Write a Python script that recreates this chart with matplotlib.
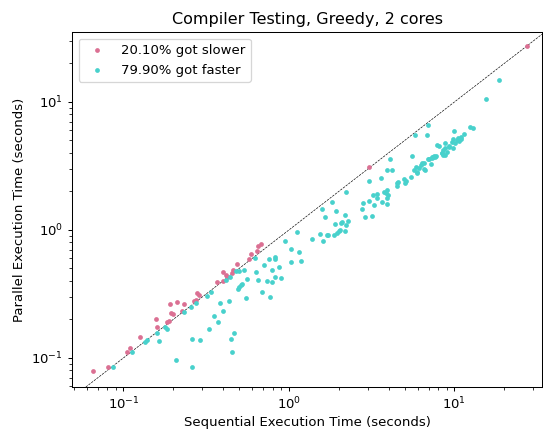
import matplotlib
matplotlib.use("Agg")
import matplotlib.pyplot as plt
import numpy as np

# Runs where the parallel build took longer than the sequential one
slower_seq = [0.0659, 0.0802, 0.105, 0.1098, 0.1253, 0.1572, 0.1594, 0.1824, 0.1876,
              0.191, 0.1936, 0.1983, 0.212, 0.2321, 0.2257, 0.2667, 0.2761, 0.2792,
              0.2871, 0.3673, 0.3977, 0.4019, 0.4144, 0.4203, 0.4505, 0.4606, 0.4852,
              0.5733, 0.5894, 0.6407, 0.6497, 0.6792, 3.064, 27.3]
slower_par = [0.0796, 0.0843, 0.1104, 0.1197, 0.1453, 0.2017, 0.1747, 0.1894, 0.1946,
              0.2642, 0.2258, 0.2194, 0.2714, 0.2656, 0.2342, 0.2763, 0.2839, 0.322,
              0.309, 0.391, 0.4017, 0.4656, 0.4434, 0.4278, 0.4638, 0.4852, 0.5426,
              0.5913, 0.6529, 0.6879, 0.7499, 0.7731, 3.10, 27.6]

# Runs where the parallel build was quicker
faster_seq = [0.0867, 0.1122, 0.1349, 0.1396, 0.1605, 0.1646, 0.1786, 0.1824, 0.2067,
              0.2327, 0.2594, 0.2594, 0.2551, 0.2754, 0.2911, 0.3183, 0.3388, 0.3277,
              0.3512, 0.3708, 0.3845, 0.3977, 0.415, 0.4369, 0.4418, 0.4461, 0.4537,
              0.4665, 0.4783, 0.4898, 0.4988, 0.5008, 0.5149, 0.5236, 0.5361, 0.5475,
              0.5552, 0.6274, 0.6363, 0.6478, 0.6869, 0.7112, 0.7343, 0.7625, 0.7699,
              0.7862, 0.7916, 0.8231, 0.8254, 0.8209, 0.870, 0.9009, 0.9485, 1.028,
              1.030, 1.115, 1.157, 1.178, 1.377, 1.546, 1.609, 1.587, 1.645, 1.692,
              1.725, 1.826, 1.923, 1.905, 1.883, 1.945, 2.005, 2.047, 2.053, 2.105,
              2.18, 2.195, 2.22, 2.273, 2.201, 2.761, 2.788, 2.867, 3.052, 3.056,
              3.195, 3.218, 3.254, 3.388, 3.388, 3.622, 3.657, 3.75, 3.855, 3.926,
              3.893, 3.981, 3.909, 3.893, 4.179, 4.059, 4.511, 4.493, 4.556, 4.939,
              5.057, 5.107, 5.483, 5.536, 5.692, 5.829, 5.952, 5.911, 6.077, 6.249,
              6.380, 6.561, 6.515, 6.898, 7.193, 7.344, 7.54, 7.731, 7.818, 8.083,
              8.486, 8.557, 8.787, 8.80, 9.239, 5.796, 6.849, 6.898, 9.93, 12.41,
              12.9, 11.49, 10.99, 10.57, 10.31, 9.752, 9.618, 10.07, 9.328, 9.833,
              8.37, 8.738, 7.677, 7.385, 7.043, 6.616, 18.57, 15.61, 8.463, 8.973,
              10.65, 10.90, 7.28]
faster_par = [0.0851, 0.1108, 0.1334, 0.1375, 0.158, 0.1365, 0.176, 0.1694, 0.0965,
              0.229, 0.0854, 0.1413, 0.2512, 0.269, 0.139, 0.3051, 0.3296, 0.1679,
              0.2109, 0.1921, 0.2666, 0.232, 0.4053, 0.2773, 0.4317, 0.1395, 0.1108,
              0.156, 0.474, 0.3447, 0.4765, 0.3567, 0.3718, 0.38, 0.487, 0.2954,
              0.4142, 0.6075, 0.4723, 0.4031, 0.328, 0.5329, 0.4017, 0.5913, 0.2981,
              0.3903, 0.4826, 0.6096, 0.5881, 0.4317, 0.5168, 0.418, 0.8251, 0.7042,
              0.5656, 0.9647, 0.6708, 0.5724, 0.8459, 0.9256, 0.8235, 1.464, 1.268,
              0.919, 0.919, 1.646, 1.407, 1.118, 0.914, 0.939, 0.982, 1.0, 1.128,
              1.151, 1.298, 0.982, 1.084, 1.176, 1.992, 1.459, 1.625, 1.268, 2.427,
              1.685, 1.275, 1.87, 1.562, 1.918, 1.762, 2.563, 1.661, 1.988, 1.935,
              2.035, 1.582, 1.86, 1.768, 2.943, 2.958, 3.567, 2.215, 2.317, 2.359,
              2.512, 2.309, 2.414, 2.581, 3.752, 2.943, 3.123, 2.773, 2.854, 3.05,
              3.237, 3.356, 2.980, 3.320, 3.600, 3.290, 3.665, 3.765, 3.80, 4.588,
              4.547, 3.875, 4.179, 4.739, 4.371, 4.507, 5.502, 5.502, 6.636, 5.904,
              6.344, 6.243, 5.602, 5.299, 5.186, 5.048, 5.168, 4.870, 4.800, 4.475,
              4.348, 3.974, 3.854, 3.732, 3.739, 3.606, 2.943, 14.94, 10.61, 4.017,
              4.09, 4.932, 5.138, 3.698]

slower_label = "20.10% got slower"
faster_label = "79.90% got faster"

plt.rcParams["font.size"] = 10.4

fig = plt.figure(figsize=(543 / 92, 430 / 92), dpi=92)
ax = fig.add_axes([72 / 543, 1 - 387 / 430, 470 / 543, 355 / 430])

ax.scatter(slower_seq, slower_par, s=14, color="palevioletred", linewidths=0,
           label=slower_label, zorder=3)
ax.scatter(faster_seq, faster_par, s=14, color="mediumturquoise", linewidths=0,
           label=faster_label, zorder=3)

ax.set_xscale("log")
ax.set_yscale("log")
ax.set_xlim(0.0489, 33.8)
ax.set_ylim(0.0593, 35.2)

# Reference line where both run times are equal
ax.axline((1, 1), (10, 10), color="black", lw=0.5, ls="--", zorder=2)

ax.set_title("Compiler Testing, Greedy, 2 cores", fontsize=12.5)
ax.set_xlabel("Sequential Execution Time (seconds)", labelpad=2.5)
ax.set_ylabel("Parallel Execution Time (seconds)")
ax.legend(loc="upper left")

fig.savefig("out.png", dpi=92)
